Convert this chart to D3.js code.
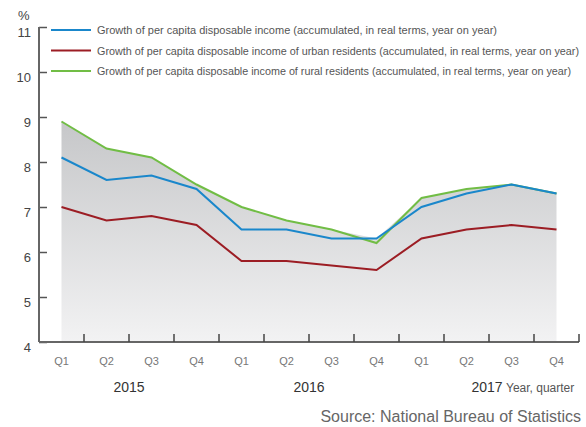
<!DOCTYPE html>
<meta charset="utf-8">
<style>
body { margin: 0; background: #fff; }
svg { font-family: "Liberation Sans", Arial, sans-serif; }
.ytick text { fill: #444; font-size: 13px; }
.xtick text { fill: #777; font-size: 11px; }
</style>
<svg width="586" height="427"></svg>
<script src="https://d3js.org/d3.v7.min.js"></script>
<script>

var quarters = ["Q1", "Q2", "Q3", "Q4", "Q1", "Q2", "Q3", "Q4", "Q1", "Q2", "Q3", "Q4"];
var years = ["2015", "2016", "2017"];
var overall = [8.1, 7.6, 7.7, 7.4, 6.5, 6.5, 6.3, 6.3, 7.0, 7.3, 7.5, 7.3];
var urban = [7.0, 6.7, 6.8, 6.6, 5.8, 5.8, 5.7, 5.6, 6.3, 6.5, 6.6, 6.5];
var rural = [8.9, 8.3, 8.1, 7.5, 7.0, 6.7, 6.5, 6.2, 7.2, 7.4, 7.5, 7.3];
var yTicks = [4, 5, 6, 7, 8, 9, 10, 11];
var legendLabels = [
  "Growth of per capita disposable income (accumulated, in real terms, year on year)",
  "Growth of per capita disposable income of urban residents (accumulated, in real terms, year on year)",
  "Growth of per capita disposable income of rural residents (accumulated, in real terms, year on year)"
];

var svg = d3.select("svg");

var x = d3.scaleBand().domain(d3.range(quarters.length)).range([39, 579]);
var y = d3.scaleLinear().domain([4, 11]).range([342, 27]);
var cx = function(i) { return x(i) + x.bandwidth() / 2; };

// gradient under the lines
var grad = svg.append("defs").append("linearGradient")
    .attr("id", "fade").attr("x1", 0).attr("y1", 0).attr("x2", 0).attr("y2", 1);
grad.append("stop").attr("offset", "0%").attr("stop-color", "#c6c7c9");
grad.append("stop").attr("offset", "100%").attr("stop-color", "#f2f2f3");

var upper = overall.map(function(d, i) { return Math.max(d, urban[i], rural[i]); });

svg.append("path")
    .datum(upper)
    .attr("fill", "url(#fade)")
    .attr("d", d3.area()
      .x(function(d, i) { return cx(i); })
      .y0(y(4) - 1)
      .y1(function(d) { return y(d); }));

// axes
var yAxis = svg.append("g")
    .attr("transform", "translate(39,0)")
    .call(d3.axisRight(y).tickValues(yTicks).tickSize(8).tickFormat(""));
yAxis.select(".domain").remove();
yAxis.selectAll("line").attr("stroke", "#555").attr("stroke-width", 1.5);
svg.append("line").attr("x1", 39).attr("x2", 39).attr("y1", y(11)).attr("y2", y(4))
    .attr("stroke", "#666").attr("stroke-width", 2);

svg.selectAll(".ytick").data(yTicks).enter().append("g").attr("class", "ytick")
  .append("text")
    .attr("x", 31).attr("y", function(d) { return y(d) + 10; })
    .attr("text-anchor", "end")
    .text(function(d) { return d; });

svg.append("text").attr("x", 18).attr("y", 20).attr("fill", "#444")
    .style("font-size", "13px").text("%");

svg.append("line").attr("x1", 39).attr("x2", 579).attr("y1", y(4)).attr("y2", y(4))
    .attr("stroke", "#666").attr("stroke-width", 2);
svg.selectAll(".xt").data(d3.range(1, quarters.length + 1)).enter().append("line")
    .attr("x1", function(i) { return 39 + i * x.bandwidth(); })
    .attr("x2", function(i) { return 39 + i * x.bandwidth(); })
    .attr("y1", y(4) - 8).attr("y2", y(4))
    .attr("stroke", "#444").attr("stroke-width", 1.5);

svg.selectAll(".xtick").data(quarters).enter().append("g").attr("class", "xtick")
  .append("text")
    .attr("x", function(d, i) { return cx(i); })
    .attr("y", 365)
    .attr("text-anchor", "middle")
    .text(function(d) { return d; });

svg.selectAll(".year").data(years).enter().append("text")
    .attr("x", function(d, i) { return i < 2 ? (x(i * 4) + x(i * 4 + 3) + x.bandwidth()) / 2 : 487; })
    .attr("y", 392)
    .attr("text-anchor", "middle")
    .attr("fill", "#333")
    .style("font-size", "14px")
    .text(function(d) { return d; });

svg.append("text").attr("x", 506).attr("y", 392).attr("fill", "#555")
    .style("font-size", "12px").text("Year, quarter");

svg.append("text").attr("x", 581).attr("y", 422).attr("text-anchor", "end")
    .attr("fill", "#666").style("font-size", "16px")
    .text("Source: National Bureau of Statistics");

// lines
var series = [
  { values: overall, color: "#1a87cb" },
  { values: urban, color: "#9c1d24" },
  { values: rural, color: "#71bd45" }
];
var line = d3.line().x(function(d, i) { return cx(i); }).y(function(d) { return y(d); });

svg.selectAll(".series").data([series[1], series[2], series[0]]).enter().append("path")
    .attr("fill", "none")
    .attr("stroke", function(d) { return d.color; })
    .attr("stroke-width", 2)
    .attr("d", function(d) { return line(d.values); });

// legend
var legendEnds = [497, 579, 571];
var lg = svg.selectAll(".legend").data(series).enter().append("g")
    .attr("transform", function(d, i) { return "translate(0," + (30 + i * 20.5) + ")"; });
lg.append("line").attr("x1", 51).attr("x2", 91)
    .attr("stroke", function(d) { return d.color; }).attr("stroke-width", 2);
lg.append("text")
    .attr("x", 97).attr("y", 4)
    .attr("fill", "#555")
    .style("font-size", "10.5px")
    .attr("textLength", function(d, i) { return legendEnds[i] - 97; })
    .attr("lengthAdjust", "spacingAndGlyphs")
    .text(function(d, i) { return legendLabels[i]; });

</script>
